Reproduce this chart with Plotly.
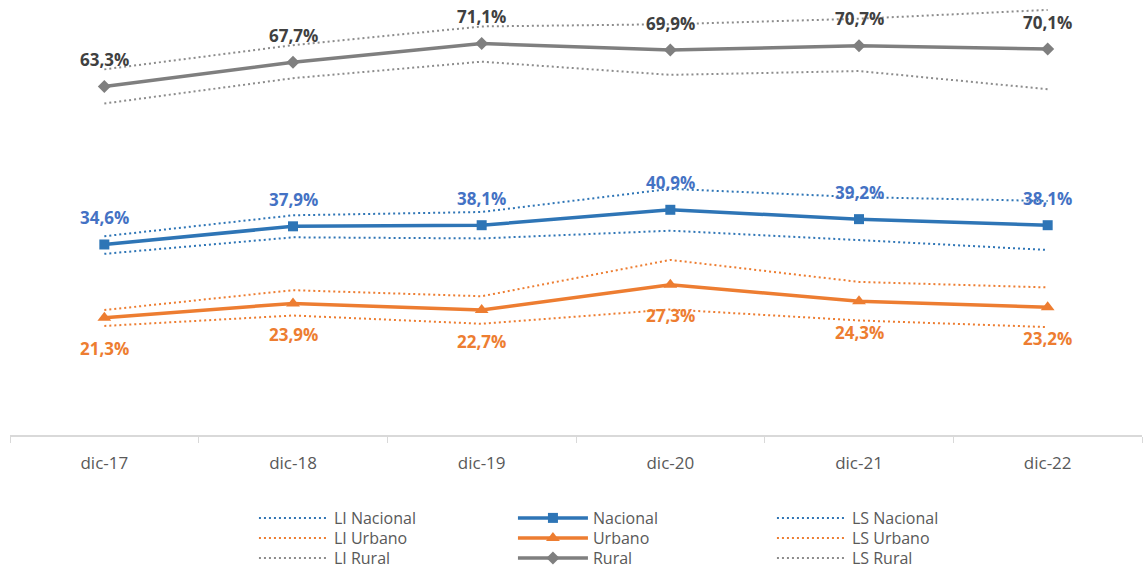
import plotly.graph_objects as go

categories = ["dic-17", "dic-18", "dic-19", "dic-20", "dic-21", "dic-22"]

nacional = [34.6, 37.9, 38.1, 40.9, 39.2, 38.1]
li_nacional = [32.9, 35.9, 35.7, 37.1, 35.4, 33.6]
ls_nacional = [36.1, 39.9, 40.5, 44.7, 43.2, 42.5]

urbano = [21.3, 23.9, 22.7, 27.3, 24.3, 23.2]
li_urbano = [19.8, 21.7, 20.2, 22.8, 20.8, 19.6]
ls_urbano = [22.7, 26.3, 25.2, 31.8, 27.8, 26.8]

rural = [63.3, 67.7, 71.1, 69.9, 70.7, 70.1]
li_rural = [60.2, 64.8, 67.8, 65.4, 66.1, 62.8]
ls_rural = [66.4, 70.8, 74.2, 74.6, 75.6, 77.2]

BLUE = "#2E75B6"
ORANGE = "#ED7D31"
GRAY = "#7F7F7F"
FONT = "Open Sans"

fig = go.Figure()

def dotted(name, y, color, legend):
    fig.add_trace(go.Scatter(
        x=categories, y=y, name=name, mode="lines",
        line=dict(color=color, width=2, dash="2px,3px"),
        legend=legend, hoverinfo="skip"))

def solid(name, y, color, symbol, size, legend):
    fig.add_trace(go.Scatter(
        x=categories, y=y, name=name, mode="lines+markers",
        line=dict(color=color, width=3.5),
        marker=dict(symbol=symbol, size=size, color=color),
        legend=legend))

dotted("LI Nacional", li_nacional, BLUE, "legend")
dotted("LS Nacional", ls_nacional, BLUE, "legend")
dotted("LI Urbano", li_urbano, ORANGE, "legend2")
dotted("LS Urbano", ls_urbano, ORANGE, "legend2")
dotted("LI Rural", li_rural, "#8C8C8C", "legend3")
dotted("LS Rural", ls_rural, "#8C8C8C", "legend3")
solid("Nacional", nacional, BLUE, "square", 10, "legend")
solid("Urbano", urbano, ORANGE, "triangle-up", 12, "legend2")
solid("Rural", rural, GRAY, "diamond", 10, "legend3")

# each legend row reads LI, main, LS
order = ["LI Nacional", "Nacional", "LS Nacional",
         "LI Urbano", "Urbano", "LS Urbano",
         "LI Rural", "Rural", "LS Rural"]
for t in fig.data:
    t.legendrank = 1000 + order.index(t.name)

def fmt(v):
    return f"{v:.1f}".replace(".", ",") + "%"

annotations = []
for series, color, shift in [(rural, "#404040", 27), (nacional, "#4472C4", 27), (urbano, ORANGE, -31)]:
    for c, v in zip(categories, series):
        annotations.append(dict(
            x=c, y=v, xref="x", yref="y", text=fmt(v), showarrow=False,
            yshift=shift, font=dict(family=FONT, size=17, color=color, weight="bold")))

legend_common = dict(
    orientation="h", yanchor="middle", xanchor="left", x=0.2155,
    font=dict(family=FONT, size=16, color="#595959"),
    bgcolor="rgba(0,0,0,0)", itemwidth=70,
    entrywidth=174, entrywidthmode="pixels",
    itemclick=False, itemdoubleclick=False)

fig.update_layout(
    width=1146, height=572,
    margin=dict(l=10, r=4, t=0, b=137, autoexpand=False),
    paper_bgcolor="white", plot_bgcolor="white",
    font=dict(family=FONT, color="#595959"),
    annotations=annotations,
    showlegend=True,
    legend=dict(legend_common, y=(435 - 518) / 435),
    legend2=dict(legend_common, y=(435 - 538) / 435),
    legend3=dict(legend_common, y=(435 - 558) / 435),
    xaxis=dict(
        type="category", range=[-0.5, 5.5], showgrid=False, zeroline=False,
        showline=True, linecolor="#D9D9D9", linewidth=1.5,
        ticks="outside", tickson="boundaries", ticklen=6, tickcolor="#D9D9D9",
        tickfont=dict(family=FONT, size=17, color="#595959"),
        ticklabelstandoff=12),
    yaxis=dict(range=[0, 79], showgrid=False, zeroline=False, showline=False,
               showticklabels=False, ticks=""),
)

fig.write_html("out.html",
               config={"displayModeBar": False},
               post_script="document.body.style.margin='0';document.body.style.overflow='hidden';")
